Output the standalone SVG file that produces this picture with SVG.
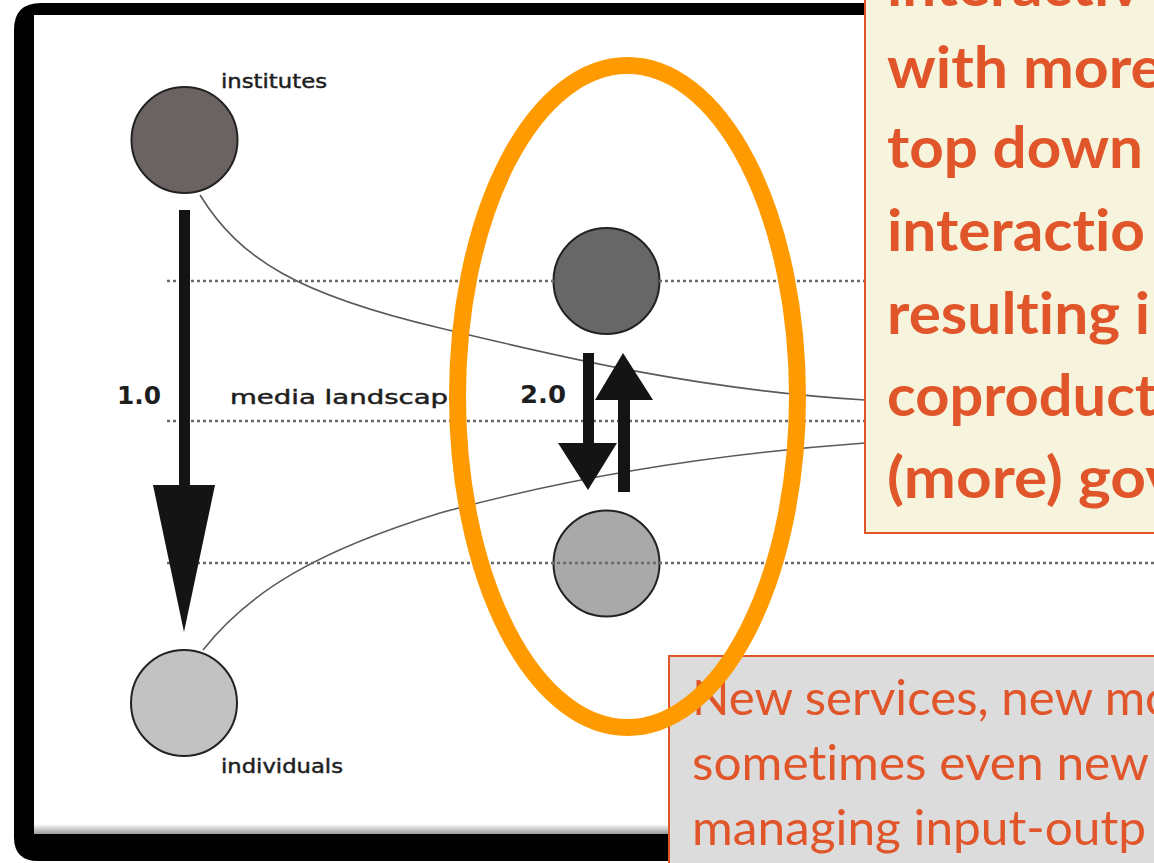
<svg xmlns="http://www.w3.org/2000/svg" width="1154" height="863" viewBox="0 0 1154 863">
<defs>
<style>
text{font-variant-ligatures:none;font-feature-settings:"liga" 0,"clig" 0}
.lbl{font-family:"DejaVu Sans","Liberation Sans",sans-serif;font-size:19px;fill:#1e1e1e;stroke:#1e1e1e;stroke-width:0.45}
.ver{font-family:"DejaVu Sans","Liberation Sans",sans-serif;font-size:24px;font-weight:bold;fill:#1e1e1e}
.dot{stroke:#6a6a6a;stroke-width:2.5;stroke-dasharray:3 3;fill:none}
.curve{stroke:#5a5a5a;stroke-width:1.6;fill:none}
.node{stroke:#222;stroke-width:2}
.arrow{fill:#141414}
.bold{font-family:Lato,"Open Sans","Liberation Sans",sans-serif;font-weight:bold;font-size:58px;fill:#E0552A}
.reg{font-family:Lato,"Open Sans","Liberation Sans",sans-serif;font-size:48px;fill:#E0552A}
</style>
<linearGradient id="shade" x1="0" y1="0" x2="0" y2="1">
<stop offset="0" stop-color="#ffffff"/>
<stop offset="1" stop-color="#9a9a9a"/>
</linearGradient>
</defs>
<rect width="1154" height="863" fill="#ffffff"/>
<g id="frame">
<path fill="#000" fill-rule="evenodd" d="M14,30 Q14,3 41,3 H1190 V861 H38 Q14,861 14,837 Z M34,15 V834 H1170 V15 Z"/>
<rect x="34" y="824" width="1130" height="10" fill="url(#shade)"/>
</g>
<g id="connectors">
<path class="curve" d="M200,195 C240,260 300,295 440,328 C560,357 700,390 865,400"/>
<path class="curve" d="M203,650 C250,590 320,550 440,513 C560,480 700,455 865,443"/>
</g>
<g id="institutes">
<circle class="node" cx="184.5" cy="140" r="53" fill="#6b6262"/>
<text class="lbl" x="221" y="88" textLength="106" lengthAdjust="spacingAndGlyphs">institutes</text>
</g>
<g id="individuals">
<circle class="node" cx="184" cy="703" r="53" fill="#c2c2c2"/>
<text class="lbl" x="221" y="773" textLength="122" lengthAdjust="spacingAndGlyphs">individuals</text>
</g>
<g id="institutes-2">
<circle class="node" cx="606.5" cy="281" r="53" fill="#676767"/>
</g>
<g id="individuals-2">
<circle class="node" cx="606.5" cy="563.5" r="53" fill="#a9a9a9"/>
</g>
<g id="levels">
<line class="dot" x1="167" y1="281" x2="865" y2="281"/>
<line class="dot" x1="167" y1="421" x2="865" y2="421"/>
<line class="dot" x1="167" y1="563" x2="1154" y2="563"/>
</g>
<g id="arrow-1">
<rect class="arrow" x="179" y="210" width="11" height="280"/>
<polygon class="arrow" points="153,485 215,485 184,632"/>
<text class="ver" x="117" y="404" textLength="44" lengthAdjust="spacingAndGlyphs">1.0</text>
</g>
<g id="arrow-2">
<rect class="arrow" x="583" y="353" width="11" height="95"/>
<polygon class="arrow" points="558,443 617,443 588,490"/>
<rect class="arrow" x="618" y="398" width="12" height="94"/>
<polygon class="arrow" points="595,400 653,400 623,353"/>
<text class="ver" x="520" y="403" textLength="46" lengthAdjust="spacingAndGlyphs">2.0</text>
</g>
<g id="media-landscape">
<text class="lbl" x="230" y="404" textLength="235" lengthAdjust="spacingAndGlyphs">media landscape</text>
</g>
<g id="note-top">
<rect x="865" y="-10" width="320" height="543" fill="#F6F4DC" stroke="#E0552A" stroke-width="2"/>
<text class="bold" x="887" y="6" textLength="254" lengthAdjust="spacingAndGlyphs">interactiv</text>
<text class="bold" x="887" y="88" textLength="276" lengthAdjust="spacingAndGlyphs">with more</text>
<text class="bold" x="887" y="168" textLength="256" lengthAdjust="spacingAndGlyphs">top down</text>
<text class="bold" x="887" y="251" textLength="258" lengthAdjust="spacingAndGlyphs">interactio</text>
<text class="bold" x="887" y="334" textLength="263" lengthAdjust="spacingAndGlyphs">resulting i</text>
<text class="bold" x="887" y="416" textLength="270" lengthAdjust="spacingAndGlyphs">coproduct</text>
<text class="bold" x="887" y="498" textLength="291" lengthAdjust="spacingAndGlyphs">(more) gov</text>
</g>
<g id="note-bottom">
<rect x="669" y="656" width="520" height="230" fill="#DCDCDC" stroke="#E0552A" stroke-width="2"/>
<text class="reg" x="692" y="715" textLength="481" lengthAdjust="spacingAndGlyphs">New services, new mo</text>
<text class="reg" x="692" y="780" textLength="457" lengthAdjust="spacingAndGlyphs">sometimes even new</text>
<text class="reg" x="692" y="845" textLength="454" lengthAdjust="spacingAndGlyphs">managing input-outp</text>
</g>
<g id="highlight">
<ellipse cx="627.5" cy="396.5" rx="170" ry="331" fill="none" stroke="#FF9B00" stroke-width="17"/>
</g>
</svg>
